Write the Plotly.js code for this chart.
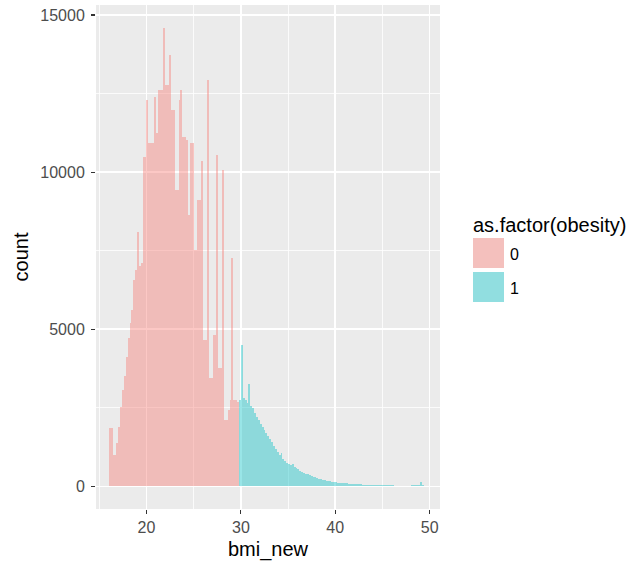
<!DOCTYPE html>
<html>
<head>
<meta charset="utf-8">
<script src="https://cdn.plot.ly/plotly-3.0.1.min.js"></script>
<style>body{margin:0;padding:0;background:#fff;}#chart{width:638px;height:571px;}</style>
</head>
<body>
<div id="chart"></div>
<script>
// Histogram of bmi_new, bin width 0.2, filled by as.factor(obesity)
var binWidth = 0.2;
var start0 = 16.0;   // first bin edge, obesity = 0
var start1 = 29.8;   // first bin edge, obesity = 1
var counts0 = [
  1855, 1855, 1007, 1007, 1380, 1900, 2540, 3070, 3500, 4130,
  4720, 5190, 5620, 6570, 6890, 8110, 7000, 7100, 10490, 10490,
  12300, 10920, 10920, 10920, 12400, 11240, 12610, 12610, 12610, 14580,
  12770, 12770, 13730, 11980, 11980, 9430, 9430, 12300, 12610, 11130,
  11130, 11020, 8640, 10920, 10920, 7530, 7530, 9120, 9120, 10340,
  4660, 4660, 12930, 3450, 3450, 4820, 4820, 10550, 3760, 3760,
  10070, 2120, 2120, 2440, 2760, 7280, 2760, 2760, 2700
];
var counts1 = [
  2760, 4500, 2800, 2750, 2650, 3250, 2550, 2500, 2350, 2200,
  2100, 2000, 1900, 1800, 1700, 1600, 1500, 1400, 1300, 1200,
  1100, 1000, 1050, 880, 800, 760, 700, 680, 700, 620,
  580, 540, 500, 460, 420, 400, 380, 350, 320, 300,
  290, 270, 250, 230, 210, 195, 180, 170, 160, 150,
  140, 130, 120, 115, 110, 105, 100, 95, 90, 85,
  80, 75, 70, 66, 62, 58, 55, 52, 50, 48,
  45, 43, 41, 39, 37, 35, 34, 33, 32, 31,
  30, 29, 28, 28, 27, 26, 25, 25, 24, 24,
  23, 30, 38, 42, 45, 42, 140, 30
];
var groups = ["0", "1"];
var xTicks = [20, 30, 40, 50];
var yTicks = [0, 5000, 10000, 15000];

function centers(start, n) {
  var out = [];
  for (var i = 0; i < n; i++) out.push(+(start + binWidth * (i + 0.5)).toFixed(3));
  return out;
}

var fill0 = "rgba(248,118,109,0.4)";
var fill1 = "rgba(0,191,196,0.4)";

var traces = [
  {type: "bar", x: centers(start0, counts0.length), y: counts0, width: binWidth,
   marker: {color: fill0, line: {width: 0}}, name: groups[0], showlegend: false, hoverinfo: "x+y"},
  {type: "bar", x: centers(start1, counts1.length), y: counts1, width: binWidth,
   marker: {color: fill1, line: {width: 0}}, name: groups[1], showlegend: false, hoverinfo: "x+y"}
];

// manual ggplot-like legend (paper coords of plot area)
var L = 96, R = 440, T = 5, B = 509;
function px(x) { return (x - L) / (R - L); }
function py(y) { return (B - y) / (B - T); }

var layout = {
  width: 638, height: 571,
  margin: {l: L, r: 638 - R, t: T, b: 571 - B, pad: 0},
  paper_bgcolor: "#ffffff",
  plot_bgcolor: "#EBEBEB",
  barmode: "overlay",
  bargap: 0,
  font: {family: "Liberation Sans, Arial, sans-serif", color: "#000"},
  xaxis: {
    range: [14.65, 51.1],
    tickvals: xTicks, ticktext: xTicks.map(String),
    showgrid: true, gridcolor: "#ffffff", gridwidth: 1.6,
    minor: {dtick: 5, tick0: 0, showgrid: true, gridcolor: "#ffffff", gridwidth: 0.8, ticks: ""},
    zeroline: false, showline: false,
    ticks: "outside", ticklen: 4, tickwidth: 1.2, tickcolor: "#333333",
    tickfont: {size: 16, color: "#4D4D4D"},
    title: {text: "bmi_new", font: {size: 20, color: "#000"}, standoff: 6},
    fixedrange: true
  },
  yaxis: {
    range: [-720, 15320],
    tickvals: yTicks, ticktext: yTicks.map(String),
    showgrid: true, gridcolor: "#ffffff", gridwidth: 1.6,
    minor: {dtick: 2500, tick0: 0, showgrid: true, gridcolor: "#ffffff", gridwidth: 0.8, ticks: ""},
    zeroline: false, showline: false,
    ticks: "outside", ticklen: 4, tickwidth: 1.2, tickcolor: "#333333",
    tickfont: {size: 16, color: "#4D4D4D"},
    ticklabelstandoff: 3,
    title: {text: "count", font: {size: 20, color: "#000"}, standoff: 6},
    fixedrange: true
  },
  shapes: [
    {type: "rect", xref: "paper", yref: "paper", x0: px(473), x1: px(504), y0: py(268), y1: py(238),
     fillcolor: "#F4C0BD", line: {width: 0}},
    {type: "rect", xref: "paper", yref: "paper", x0: px(473), x1: px(504), y0: py(302), y1: py(272),
     fillcolor: "#91DEE0", line: {width: 0}}
  ],
  annotations: [
    {text: "as.factor(obesity)", xref: "paper", yref: "paper", x: px(471), y: py(225),
     xanchor: "left", yanchor: "middle", showarrow: false, font: {size: 20, color: "#000"}},
    {text: groups[0], xref: "paper", yref: "paper", x: px(508), y: py(254),
     xanchor: "left", yanchor: "middle", showarrow: false, font: {size: 16, color: "#000"}},
    {text: groups[1], xref: "paper", yref: "paper", x: px(508), y: py(288),
     xanchor: "left", yanchor: "middle", showarrow: false, font: {size: 16, color: "#000"}}
  ]
};

Plotly.newPlot("chart", traces, layout, {displayModeBar: false, staticPlot: true});
</script>
</body>
</html>
